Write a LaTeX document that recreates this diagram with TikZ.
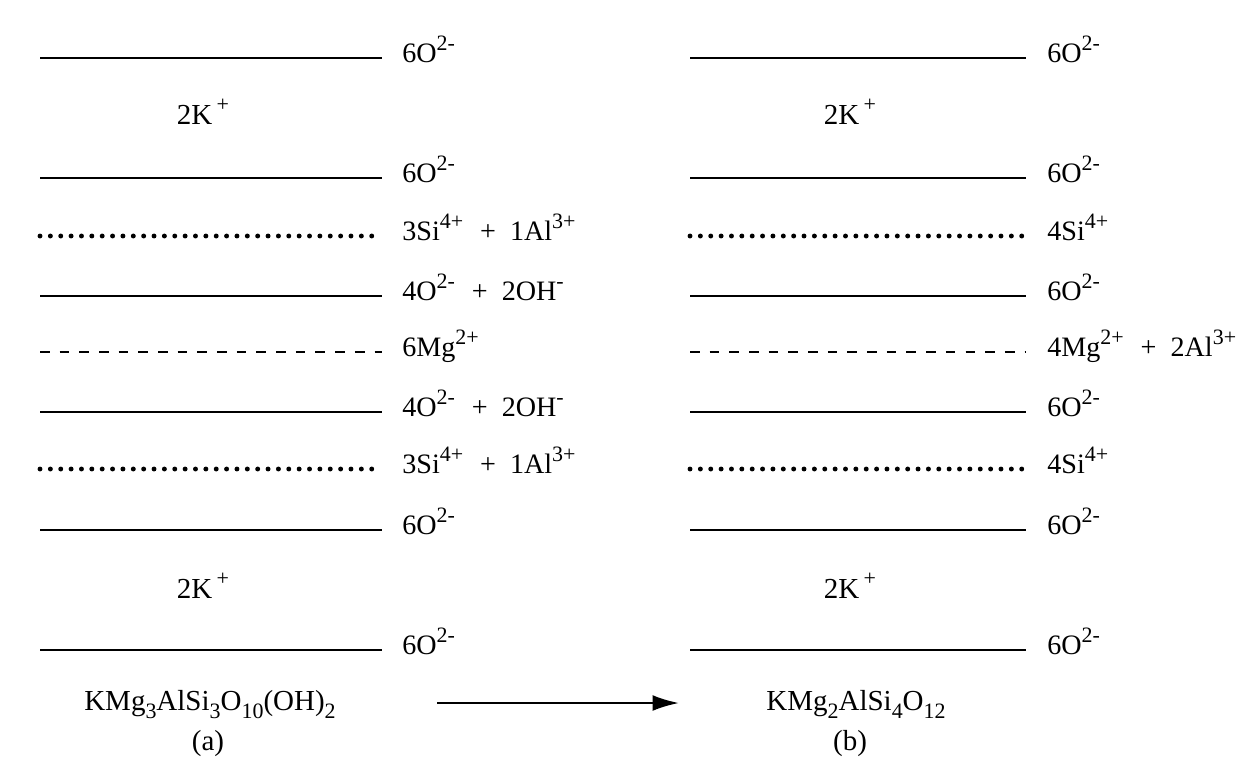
\documentclass[tikz,border=0pt]{standalone}
\usepackage{fontspec}
\setmainfont{Liberation Serif}
\usetikzlibrary{arrows.meta,positioning}

% charge and index with larger script size
\newcommand{\chg}[1]{\raisebox{0.42em}{\fontsize{12.5}{13}\selectfont#1}}
\newcommand{\idx}[1]{\raisebox{-0.28em}{\fontsize{12.5}{13}\selectfont#1}}
\newcommand{\plusgap}{\hspace{0.6em}+\hspace{0.5em}}

\tikzset{
  solidlayer/.style={line width=1.2pt},
  dotlayer/.style={line width=2.8pt,line cap=round,dash pattern=on 0pt off 5.9pt},
  dashlayer/.style={line width=1.4pt,dash pattern=on 5.5pt off 5.7pt},
  ionlabel/.style={anchor=base west,inner sep=0pt,font=\fontsize{16}{19}\selectfont},
  formula/.style={anchor=base,inner sep=0pt,font=\fontsize{16.5}{19}\selectfont}
}

\begin{document}
\begin{tikzpicture}[x=0.02cm,y=-0.02cm]
  \useasboundingbox[fill=white] (0,0) rectangle (1253,758);

  % layer sequence (a)
  \foreach \y/\sty/\lab [count=\i] in {
      58/solidlayer/6O\chg{2-},
      178/solidlayer/6O\chg{2-},
      236/dotlayer/3Si\chg{4+}\plusgap1Al\chg{3+},
      296/solidlayer/4O\chg{2-}\plusgap2OH\chg{-},
      352/dashlayer/6Mg\chg{2+},
      412/solidlayer/4O\chg{2-}\plusgap2OH\chg{-},
      469/dotlayer/3Si\chg{4+}\plusgap1Al\chg{3+},
      530/solidlayer/6O\chg{2-},
      650/solidlayer/6O\chg{2-}} {
    \coordinate (la\i) at (40,\y);
    \coordinate (ra\i) at (382,\y);
    \draw[\sty] (la\i) -- (ra\i);
    \node[ionlabel] (ta\i) at (402,\y+4) {\lab};
  }
  \node[formula] (ka1) at (203,124) {2K\hspace{0.15em}\chg{+}};
  \node[formula] (ka2) at (203,598) {2K\hspace{0.15em}\chg{+}};

  % layer sequence (b)
  \foreach \y/\sty/\lab [count=\i] in {
      58/solidlayer/6O\chg{2-},
      178/solidlayer/6O\chg{2-},
      236/dotlayer/4Si\chg{4+},
      296/solidlayer/6O\chg{2-},
      352/dashlayer/4Mg\chg{2+}\plusgap2Al\chg{3+},
      412/solidlayer/6O\chg{2-},
      469/dotlayer/4Si\chg{4+},
      530/solidlayer/6O\chg{2-},
      650/solidlayer/6O\chg{2-}} {
    \coordinate (lb\i) at (690,\y);
    \coordinate (rb\i) at (1026,\y);
    \draw[\sty] (lb\i) -- (rb\i);
    \node[ionlabel] (tb\i) at (1047,\y+4) {\lab};
  }
  \node[formula] (kb1) at (850,124) {2K\hspace{0.15em}\chg{+}};
  \node[formula] (kb2) at (850,598) {2K\hspace{0.15em}\chg{+}};

  % formulas and arrow
  \node[formula] (fa) at (210,710) {KMg\idx{3}AlSi\idx{3}O\idx{10}(OH)\idx{2}};
  \node[formula] (capa) at (208,750) {(a)};
  \node[formula] (fb) at (856,710) {KMg\idx{2}AlSi\idx{4}O\idx{12}};
  \node[formula] (capb) at (850,750) {(b)};
  \coordinate (arrs) at (437,703);
  \coordinate (arre) at (679,703);
  \draw[line width=1.3pt,-{Latex[length=15pt,width=9pt]}] (arrs) -- (arre);
\end{tikzpicture}
\end{document}
